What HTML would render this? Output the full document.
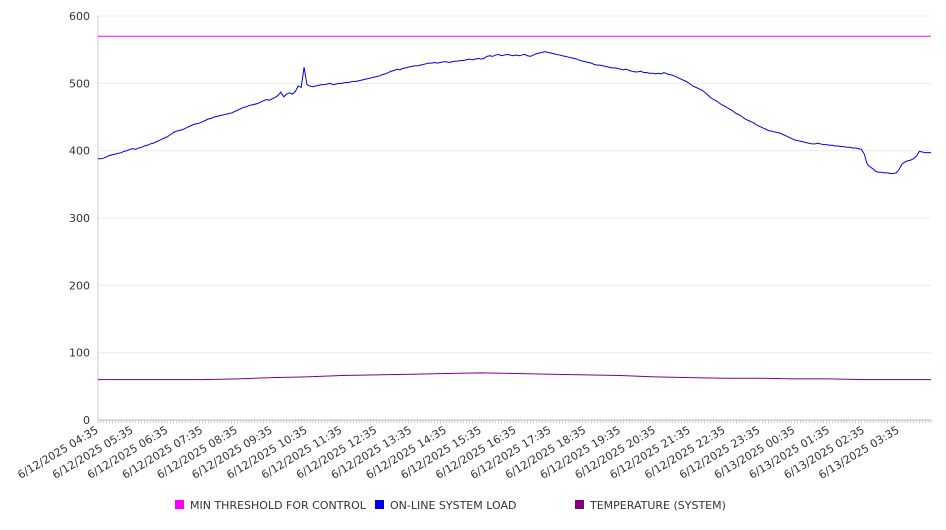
<!DOCTYPE html>
<html><head><meta charset="utf-8"><style>
body{margin:0;background:#fff;font-family:"DejaVu Sans","Liberation Sans",sans-serif;}
svg text{font-family:"DejaVu Sans","Liberation Sans",sans-serif;fill:#333;}
</style></head><body>
<svg id="chart" width="946" height="526" xmlns="http://www.w3.org/2000/svg"></svg>
<script>
const yTicks=[0,100,200,300,400,500,600];
const threshold=[570];
const load=[388,388,389,391,393,394,395,396,397,399,400,402,
403,402,404,405,407,408,410,411,413,415,417,419,
421,424,427,429,430,431,433,435,437,439,440,441,
443,445,447,448,450,451,452,453,454,455,456,458,
460,462,464,465,467,468,469,470,472,474,476,475,
477,479,482,487,480,484,486,484,488,496,494,524,
498,496,495,496,497,498,498,499,500,498,499,500,
500,501,501,502,503,503,504,505,506,507,508,509,
510,511,513,514,516,518,519,521,520,522,523,524,
525,526,526,527,528,529,530,530,531,530,531,532,
532,531,532,533,533,534,534,535,536,535,536,537,
536,537,540,541,540,542,543,541,542,543,542,541,
542,541,542,543,541,540,542,544,545,546,547,546,
545,544,543,542,541,540,539,538,537,536,534,533,
532,531,530,528,527,527,526,525,524,523,523,522,
521,520,521,519,518,517,517,518,516,516,515,515,
514,515,514,516,514,513,512,510,508,506,504,502,
499,496,494,492,490,487,483,479,476,474,471,468,
466,463,461,458,455,453,450,447,445,443,441,438,
436,434,432,430,429,428,427,426,424,422,420,418,
416,415,414,413,412,411,410,410,411,410,409,409,
408,408,407,407,406,406,405,405,404,404,403,402,
395,380,376,373,369,368,368,367,367,366,366,367,
372,380,383,385,386,388,392,399,398,397,397,397];
const tempHourly=[60,60,60,60,61,63,64,66,67,68,69,70,69,68,67,66,64,63,62,62,61,61,60,60];
const xLabels=["6/12/2025 04:35","6/12/2025 05:35","6/12/2025 06:35","6/12/2025 07:35","6/12/2025 08:35","6/12/2025 09:35","6/12/2025 10:35","6/12/2025 11:35","6/12/2025 12:35","6/12/2025 13:35","6/12/2025 14:35","6/12/2025 15:35","6/12/2025 16:35","6/12/2025 17:35","6/12/2025 18:35","6/12/2025 19:35","6/12/2025 20:35","6/12/2025 21:35","6/12/2025 22:35","6/12/2025 23:35","6/13/2025 00:35","6/13/2025 01:35","6/13/2025 02:35","6/13/2025 03:35"];
const legendNames=["MIN THRESHOLD FOR CONTROL","ON-LINE SYSTEM LOAD","TEMPERATURE (SYSTEM)"];
const legendColors=["#ff00ff","#0000ee","#800080"];

const svg=document.getElementById('chart');
const NS='http://www.w3.org/2000/svg';
const L=98,R=931,T=16,B=420,N=load.length;
const x=i=>L+(R-L)*i/(N-1);
const y=v=>B-(B-T)*v/600;
function el(t,a,p){const e=document.createElementNS(NS,t);for(const k in a)e.setAttribute(k,a[k]);(p||svg).appendChild(e);return e;}

yTicks.forEach(v=>{
  const g=el('line',{x1:L,x2:R,y1:y(v),y2:y(v),stroke:v===0?'#bbb':'#ebebeb','stroke-width':1});
  
  
  const t=el('text',{x:90,y:y(v)+4,'text-anchor':'end','font-size':11});
  t.textContent=v;
  
  
});
const ax=el('line',{x1:L,x2:L,y1:T,y2:B,stroke:'#ccc'});


for(let i=0;i<N;i++){
  const tk=el('line',{x1:x(i),x2:x(i),y1:B,y2:B+3,stroke:'#bbb','stroke-width':0.8});
  
  
}
xLabels.forEach((s,k)=>{
  const xx=x(k*12)+1;
  const t=el('text',{x:xx,y:B+12,'text-anchor':'end','font-size':11,transform:`rotate(-31 ${xx} ${B+12})`});
  t.textContent=s;
  
  
});
const th=el('line',{x1:L,x2:R,y1:y(threshold[0]),y2:y(threshold[0]),stroke:'#ff00ff','stroke-width':1});


const lp=el('polyline',{points:load.map((v,i)=>x(i)+','+y(v)).join(' '),fill:'none',stroke:'#0000ee','stroke-width':1});


const tp=tempHourly.map((v,h)=>x(h*12)+','+y(v));
tp.push(x(N-1)+','+y(tempHourly[tempHourly.length-1]));
const tl=el('polyline',{points:tp.join(' '),fill:'none',stroke:'#800080','stroke-width':1});


const lx=[175,375,575];
legendNames.forEach((n,k)=>{
  const r=el('rect',{x:lx[k],y:500,width:9,height:9,fill:legendColors[k]});
  
  
  const t=el('text',{x:lx[k]+15,y:509,'font-size':11});
  t.textContent=n;
  
  
});
</script>
</body></html>
